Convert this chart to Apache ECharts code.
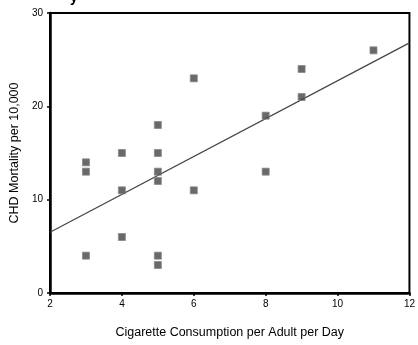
<!DOCTYPE html>
<html>
<head>
<meta charset="utf-8">
<script src="https://cdn.jsdelivr.net/npm/echarts@6/dist/echarts.min.js"></script>
<style>html,body{margin:0;padding:0;background:#fff}#c{width:418px;height:345px}</style>
</head>
<body>
<div id="c"></div>
<script>
var cigarettes = [3, 3, 3, 4, 4, 4, 5, 5, 5, 5, 5, 5, 6, 6, 8, 8, 9, 9, 11];
var mortality = [14, 13, 4, 15, 11, 6, 18, 15, 13, 12, 4, 3, 23, 11, 19, 13, 24, 21, 26];
var fitX = [2, 12];
var fitY = [6.5, 26.8];
var xTicks = [2, 4, 6, 8, 10, 12];
var yTicks = [0, 10, 20, 30];

var points = cigarettes.map(function (x, i) { return [x, mortality[i]]; });
var fit = fitX.map(function (x, i) { return [x, fitY[i]]; });

var chart = echarts.init(document.getElementById('c'));
var font = 'Liberation Sans, Arial, sans-serif';
chart.setOption({
  animation: false,
  title: {
    text: 'y', left: 65, top: -14,
    textStyle: { fontSize: 14, fontWeight: 'bold', color: '#000', fontFamily: font }
  },
  grid: {
    left: 49, right: 5, top: 13, bottom: 52,
    show: true, borderColor: '#000', borderWidth: 2, backgroundColor: 'transparent'
  },
  xAxis: {
    type: 'value', min: 2, max: 12, interval: 2,
    name: 'Cigarette Consumption per Adult per Day',
    nameLocation: 'middle', nameGap: 33,
    nameTextStyle: { fontSize: 12.5, color: '#000', fontFamily: font },
    axisLine: { lineStyle: { color: '#000', width: 2.5 } },
    axisTick: { show: true, length: 3, lineStyle: { color: '#000', width: 1.5 } },
    axisLabel: { fontSize: 10, color: '#000', margin: 6, fontFamily: font,
      formatter: function (v) { return xTicks.indexOf(v) >= 0 ? String(v) : ''; } },
    splitLine: { show: false }
  },
  yAxis: {
    type: 'value', min: 0, max: 30, interval: 10,
    name: 'CHD Mortality per 10,000',
    nameLocation: 'middle', nameGap: 28, nameRotate: 90,
    nameTextStyle: { fontSize: 12.5, color: '#000', fontFamily: font },
    axisLine: { lineStyle: { color: '#000', width: 2.5 } },
    axisTick: { show: true, length: 3, lineStyle: { color: '#000', width: 1.5 } },
    axisLabel: { fontSize: 10, color: '#000', margin: 7, fontFamily: font,
      formatter: function (v) { return yTicks.indexOf(v) >= 0 ? String(v) : ''; } },
    splitLine: { show: false }
  },
  series: [
    {
      type: 'line', data: fit, symbol: 'none', silent: true,
      lineStyle: { color: '#444', width: 1.2 }, z: 2
    },
    {
      type: 'scatter', data: points, symbol: 'rect', symbolSize: 7,
      itemStyle: { color: '#444', borderColor: '#888', borderWidth: 1 }, z: 3
    }
  ]
});
</script>
</body>
</html>
